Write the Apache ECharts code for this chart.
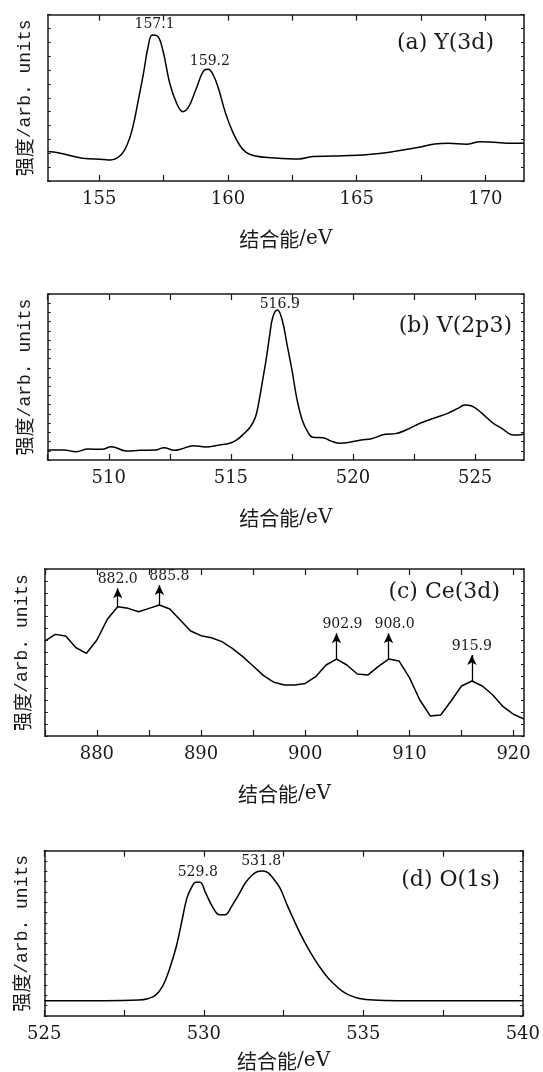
<!DOCTYPE html>
<html><head><meta charset="utf-8">
<script src="https://cdn.jsdelivr.net/npm/echarts@6/dist/echarts.min.js"></script>
<style>html,body{margin:0;padding:0;background:#fff}#c{width:543px;height:1072px}</style>
</head><body><div id="c"></div>
<script>
// ---------- (a) Y(3d) ----------
const aEnergy = [153.0,153.40,154.35,155.16,155.43,155.84,156.11,156.31,156.52,156.72,156.90,157.06,157.26,157.47,157.74,158.01,158.25,158.48,158.75,159.09,159.23,159.43,159.63,159.91,160.18,160.45,160.72,161.06,161.67,162.75,163.29,164.11,165.46,166.41,167.36,168.03,168.58,169.25,169.80,170.34,171.02,171.5];
const aIntensity = [2.12,2.04,1.64,1.56,1.52,1.88,2.72,3.92,5.84,7.77,9.69,10.53,10.46,9.45,7.05,5.60,5.00,5.36,6.57,8.01,8.06,7.65,6.69,4.88,3.56,2.60,2.04,1.80,1.68,1.59,1.76,1.80,1.92,2.12,2.41,2.67,2.72,2.65,2.84,2.79,2.72,2.72];
const aTicks = [155,157.5,160,162.5,165,167.5,170];
const aLabels = [155,160,165,170];
const aPeakX = [157.15,159.3];
const aPeakY = [11.3,8.66];
const aPeakText = ['157.1','159.2'];

// ---------- (b) V(2p3) ----------
const bEnergy = [507.5,508.16,508.66,509.15,509.72,510.11,510.71,511.27,511.91,512.26,512.69,512.97,513.47,513.96,514.53,514.95,515.24,515.52,515.80,516.01,516.16,516.30,516.44,516.58,516.72,516.91,517.10,517.29,517.50,517.71,517.92,518.14,518.35,518.77,519.06,519.48,519.91,520.33,520.75,521.32,521.74,522.17,522.74,523.30,523.87,524.29,524.57,524.86,525.28,525.71,526.13,526.49,526.77,527.0];
const bIntensity = [1.08,1.08,0.90,1.19,1.16,1.45,0.98,1.05,1.08,1.34,1.05,1.19,1.55,1.41,1.63,1.81,2.17,2.82,3.61,4.70,6.51,8.67,10.84,13.37,15.54,16.26,15.18,12.65,9.76,6.51,4.34,3.07,2.46,2.42,2.10,1.81,1.95,2.17,2.31,2.78,2.86,3.25,3.98,4.52,5.06,5.60,5.96,5.85,5.06,4.05,3.36,2.75,2.71,2.82];
const bTicks = [507.5,510,512.5,515,517.5,520,522.5,525];
const bLabels = [510,515,520,525];
const bPeakX = [517.0];
const bPeakY = [16.9];
const bPeakText = ['516.9'];

// ---------- (c) Ce(3d) ----------
const cEnergy = [875,876,877,878,879,880,881,882,883,884,885,886,887,888,889,890,891,892,893,894,895,896,897,898,899,900,901,902,903,904,905,906,907,908,909,910,911,912,913,914,915,916,917,918,919,920,921];
const cIntensity = [7.96,8.52,8.38,7.40,6.93,8.05,9.78,10.84,10.70,10.42,10.70,10.98,10.65,9.72,8.80,8.41,8.24,7.91,7.35,6.65,5.87,5.06,4.50,4.27,4.27,4.41,4.97,5.95,6.45,5.95,5.20,5.11,5.81,6.45,6.29,4.89,3.02,1.68,1.76,2.93,4.19,4.61,4.19,3.44,2.46,1.82,1.42];
const cTicks = [875,880,885,890,895,900,905,910,915,920];
const cLabels = [880,890,900,910,920];
const cArrowX = [882,886,903,908,916];
const cArrowBase = [10.84,10.98,6.45,6.45,4.61];
const cArrowTip = [12.38,12.66,8.61,8.61,6.79];
const cArrowText = ['882.0','885.8','902.9','908.0','915.9'];
const cArrowLabelShift = [0,10,6,6,0];

// ---------- (d) O(1s) ----------
const dEnergy = [525.0,526.86,527.95,528.27,528.49,528.71,528.92,529.14,529.30,529.47,529.63,529.74,529.88,530.06,530.28,530.49,530.66,530.87,531.09,531.31,531.52,531.69,531.85,532.01,532.17,532.39,532.61,532.82,533.04,533.26,533.48,533.69,533.91,534.13,534.34,534.56,534.88,535.32,536.08,540.0];
const dIntensity = [1.48,1.48,1.54,1.70,2.02,2.89,4.50,6.75,9.00,11.41,12.53,12.95,12.95,11.89,10.54,9.80,9.80,10.60,11.73,12.92,13.65,13.98,14.04,13.88,13.33,12.37,10.76,9.32,7.87,6.59,5.46,4.50,3.63,2.96,2.41,2.02,1.70,1.54,1.48,1.48];
const dTicks = [525,527.5,530,532.5,535,537.5,540];
const dLabels = [525,530,535,540];
const dPeakX = [529.81,531.8];
const dPeakY = [13.9,14.97];
const dPeakText = ['529.8','531.8'];

const panels = [
  {e:aEnergy, v:aIntensity, xMin:153, xMax:171.5, ticks:aTicks, labels:aLabels, yDiv:12, smooth:0.4,
   grid:{left:47.7, right:19, top:14.7, height:166.3}, title:'(a) Y(3d)', tRight:49, tTop:32, nameGap:48, margin:9,
   px:aPeakX, py:aPeakY, pt:aPeakText},
  {e:bEnergy, v:bIntensity, xMin:507.5, xMax:527, ticks:bTicks, labels:bLabels, yDiv:18, smooth:0.4,
   grid:{left:47.7, right:19, top:294, height:166}, title:'(b) V(2p3)', tRight:31, tTop:315.7, nameGap:48, margin:9,
   px:bPeakX, py:bPeakY, pt:bPeakText},
  {e:cEnergy, v:cIntensity, xMin:875, xMax:921, ticks:cTicks, labels:cLabels, yDiv:14, smooth:false,
   grid:{left:44.8, right:19, top:569, height:167}, title:'(c) Ce(3d)', tRight:43, tTop:581, nameGap:48, margin:9,
   px:[], py:[], pt:[]},
  {e:dEnergy, v:dIntensity, xMin:525, xMax:540, ticks:dTicks, labels:dLabels, yDiv:16, smooth:0.4,
   grid:{left:44.3, right:19, top:850.7, height:166}, title:'(d) O(1s)', tRight:43, tTop:869, nameGap:35, margin:9,
   px:dPeakX, py:dPeakY, pt:dPeakText}
];

const axisColor = '#1a1a1a';
const serif = 'DejaVu Serif';
const grids = [], xAxes = [], yAxes = [], series = [], titles = [];

panels.forEach((p, i) => {
  grids.push(Object.assign({containLabel:false}, p.grid));
  titles.push({text:p.title, right:p.tRight, top:p.tTop, padding:0,
    textStyle:{fontFamily:serif, fontSize:22, fontWeight:'normal', color:axisColor, lineHeight:22}});
  [false, true].forEach(top => {
    xAxes.push({
      type:'value', gridIndex:i, position: top ? 'top' : 'bottom', min:p.xMin, max:p.xMax,
      axisLine:{show:true, onZero:false, lineStyle:{color:axisColor, width:1.5}},
      axisTick:{show:true, inside:true, length:6, customValues:p.ticks, lineStyle:{color:axisColor, width:1.2}},
      axisLabel:{show:!top, customValues:p.labels, margin:p.margin, color:axisColor, fontFamily:serif, fontSize:18},
      splitLine:{show:false},
      name: top ? '' : '{c|结合能}{s|/eV}', nameLocation:'middle', nameGap:p.nameGap,
      nameTextStyle:{color:axisColor, rich:{
        c:{fontFamily:'Noto Sans CJK SC', fontSize:20, color:axisColor},
        s:{fontFamily:serif, fontSize:20, color:axisColor}}}
    });
  });
  [false, true].forEach(right => {
    yAxes.push({
      type:'value', gridIndex:i, position: right ? 'right' : 'left', min:0, max:p.yDiv, interval:1,
      axisLine:{show:true, onZero:false, lineStyle:{color:axisColor, width:1.5}},
      axisTick:{show:true, inside:true, length:3, lineStyle:{color:axisColor, width:1}},
      axisLabel:{show:false}, splitLine:{show:false},
      name: right ? '' : '{c|强度}{m|/arb. units}', nameLocation:'middle', nameGap:13, nameRotate:90,
      nameTextStyle:{color:axisColor, rich:{
        c:{fontFamily:'Noto Sans CJK SC', fontSize:19, color:axisColor},
        m:{fontFamily:'Liberation Mono', fontSize:18, color:axisColor}}}
    });
  });
  const line = {
    type:'line', xAxisIndex:2*i, yAxisIndex:2*i, data:p.e.map((x,k)=>[x, p.v[k]]),
    symbol:'none', showSymbol:false, smooth:p.smooth, silent:true, z:2,
    lineStyle:{color:'#000', width:1.5}
  };
  if (i === 2) {
    line.markLine = {
      silent:true, symbol:['none','arrow'], symbolSize:[7,10],
      lineStyle:{color:'#000', width:1.3, type:'solid'},
      label:{show:true, position:'end', distance:2, formatter:'{b}', fontFamily:serif, fontSize:14, color:axisColor},
      data: cArrowX.map((x,k)=>[
        {coord:[x, cArrowBase[k]], name:cArrowText[k], label:{offset:[cArrowLabelShift[k],0]}},
        {coord:[x, cArrowTip[k]]}])
    };
  }
  series.push(line);
  if (p.px.length) {
    series.push({
      type:'scatter', xAxisIndex:2*i, yAxisIndex:2*i, symbolSize:0, silent:true, z:5,
      itemStyle:{color:'#000', opacity:1},
      data:p.px.map((x,k)=>({value:[x, p.py[k]], name:p.pt[k]})),
      label:{show:true, position:'inside', formatter:'{b}', fontFamily:serif, fontSize:14,
             color:axisColor, opacity:1, textBorderWidth:0}
    });
  }
});

const chart = echarts.init(document.getElementById('c'), null, {renderer:'canvas'});
chart.setOption({
  animation:false, backgroundColor:'#fff',
  title:titles, grid:grids, xAxis:xAxes, yAxis:yAxes, series:series
});
</script></body></html>
